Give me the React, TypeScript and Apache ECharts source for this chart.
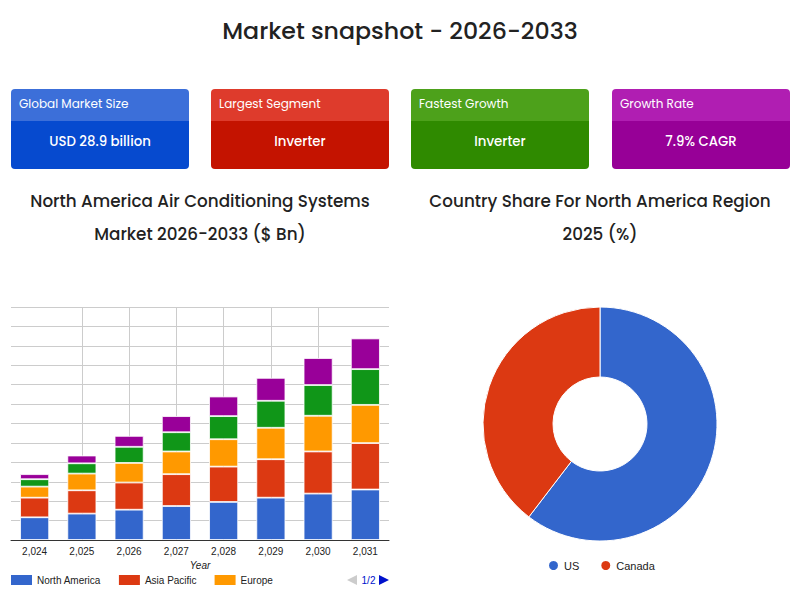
import React, { useEffect, useRef } from "react";
import * as echarts from "echarts";

const years = ["2,024", "2,025", "2,026", "2,027", "2,028", "2,029", "2,030", "2,031"];
const northAmerica = [1.17, 1.36, 1.56, 1.75, 1.96, 2.18, 2.39, 2.6];
const asiaPacific = [1.01, 1.2, 1.4, 1.64, 1.82, 1.98, 2.17, 2.39];
const europe = [0.57, 0.86, 1.01, 1.17, 1.41, 1.62, 1.84, 1.97];
const latinAmerica = [0.38, 0.53, 0.83, 0.99, 1.19, 1.39, 1.58, 1.84];
const middleEastAfrica = [0.26, 0.4, 0.56, 0.83, 1.01, 1.18, 1.39, 1.58];
const regionNames = ["North America", "Asia Pacific", "Europe", "Latin America", "Middle East & Africa"];
const legendPageOne = ["North America", "Asia Pacific", "Europe"];
const legendPageText = "1/2";
const regionColors = ["#3366cc", "#dc3912", "#ff9900", "#109618", "#990099"];

const countryNames = ["US", "Canada"];
const countryShares = [60.4, 39.6];
const countryColors = ["#3366cc", "#dc3912"];

const cardTitles = ["Global Market Size", "Largest Segment", "Fastest Growth", "Growth Rate"];
const cardValues = ["USD 28.9 billion", "Inverter", "Inverter", "7.9% CAGR"];
const cardHeaderColors = ["#3c6fd9", "#de3b2c", "#4da11b", "#b01eb2"];
const cardBodyColors = ["#064acf", "#c41300", "#2f8a00", "#970097"];
const cardLefts = [11, 211, 411, 612];

const TITLE_FONT = "Poppins, Inter, 'Noto Sans', sans-serif";
const CHART_FONT = "Arial, 'Liberation Sans', sans-serif";

export default function App() {
  const ref = useRef<HTMLDivElement>(null);
  useEffect(() => {
    if (!ref.current) return;
    const chart = echarts.init(ref.current, undefined, { renderer: "svg" });
    const seriesData = [northAmerica, asiaPacific, europe, latinAmerica, middleEastAfrica];

    const cards: any[] = [];
    cardTitles.forEach((t, i) => {
      const x = cardLefts[i];
      const w = 178;
      cards.push({
        type: "rect",
        shape: { x, y: 89, width: w, height: 32, r: [4, 4, 0, 0] },
        style: { fill: cardHeaderColors[i] },
      });
      cards.push({
        type: "rect",
        shape: { x, y: 121, width: w, height: 48, r: [0, 0, 4, 4] },
        style: { fill: cardBodyColors[i] },
      });
      cards.push({
        type: "text",
        x: x + 8,
        y: 103,
        style: {
          text: t,
          fill: "#ffffff",
          font: `400 12px ${TITLE_FONT}`,
          textAlign: "left",
          textVerticalAlign: "middle",
        },
      });
      cards.push({
        type: "text",
        x: x + w / 2,
        y: 141,
        style: {
          text: cardValues[i],
          fill: "#ffffff",
          font: `500 13.3px ${TITLE_FONT}`,
          textAlign: "center",
          textVerticalAlign: "middle",
        },
      });
    });

    const texts = [
      { t: "Market snapshot - 2026-2033", x: 400, y: 30, size: 23.7 },
      { t: "North America Air Conditioning Systems", x: 200, y: 201, size: 16.8 },
      { t: "Market 2026-2033 ($ Bn)", x: 200, y: 234, size: 16.8 },
      { t: "Country Share For North America Region", x: 600, y: 201, size: 16.8 },
      { t: "2025 (%)", x: 600, y: 234, size: 16.8 },
    ].map((d) => ({
      type: "text",
      x: d.x,
      y: d.y,
      style: {
        text: d.t,
        fill: "#222222",
        font: `500 ${d.size}px ${TITLE_FONT}`,
        textAlign: "center",
        textVerticalAlign: "middle",
      },
    }));

    const pager = [
      {
        type: "polygon",
        shape: { points: [[357, 575], [357, 585], [347, 580]] },
        style: { fill: "#cccccc" },
      },
      {
        type: "text",
        x: 368.5,
        y: 580,
        style: {
          text: legendPageText,
          fill: "#0011cc",
          font: `10px ${CHART_FONT}`,
          textAlign: "center",
          textVerticalAlign: "middle",
        },
      },
      {
        type: "polygon",
        shape: { points: [[379, 575], [379, 585], [389, 580]] },
        style: { fill: "#0011cc" },
      },
    ];

    // helper axis with 17 slots: odd slots fall on category centres
    const helperSlots = Array.from({ length: 17 }, (_, i) => String(i));

    chart.setOption({
      animation: false,
      graphic: [...cards, ...texts, ...pager],
      grid: { left: 11, right: 401, top: 307, bottom: 66, containLabel: false },
      legend: [
        {
          data: legendPageOne,
          left: 11,
          top: 575,
          padding: 0,
          icon: "rect",
          itemWidth: 21,
          itemHeight: 10,
          itemGap: 18,
          itemStyle: { borderWidth: 0 },
          textStyle: { fontFamily: CHART_FONT, fontSize: 10, color: "#222" },
        },
        {
          data: countryNames,
          left: 547,
          top: 559,
          padding: 0,
          icon: "circle",
          itemWidth: 11,
          itemHeight: 11,
          itemGap: 20,
          textStyle: { fontFamily: CHART_FONT, fontSize: 11, color: "#222" },
        },
      ],
      xAxis: [
        {
          type: "category",
          data: years,
          name: "Year",
          nameLocation: "middle",
          nameGap: 20,
          nameTextStyle: { fontFamily: CHART_FONT, fontSize: 10, fontStyle: "italic", color: "#222" },
          axisLine: { lineStyle: { color: "#333", width: 1 } },
          axisTick: { show: false },
          axisLabel: { fontFamily: CHART_FONT, fontSize: 10, color: "#222", margin: 6 },
          splitLine: { show: false },
          z: 3,
        },
        {
          type: "category",
          data: helperSlots,
          boundaryGap: false,
          position: "bottom",
          axisLine: { show: false },
          axisTick: { show: false },
          axisLabel: { show: false },
          splitLine: {
            show: true,
            showMinLine: false,
            showMaxLine: false,
            interval: (index: number) => index % 2 === 1,
            lineStyle: { color: "#cccccc" },
          },
        },
      ],
      yAxis: {
        type: "value",
        min: 0,
        max: 12,
        interval: 1,
        axisLabel: { show: false },
        axisLine: { show: false },
        axisTick: { show: false },
        splitLine: { lineStyle: { color: "#cccccc" } },
      },
      series: [
        ...regionNames.map((n, i) => ({
          type: "bar",
          name: n,
          stack: "total",
          xAxisIndex: 0,
          data: seriesData[i],
          barWidth: 29,
          itemStyle: { color: regionColors[i], borderColor: "#ffffff", borderWidth: 0.8 },
        })),
        {
          type: "pie",
          name: "Country Share",
          center: [600, 424],
          radius: [47, 117],
          startAngle: 90,
          clockwise: true,
          label: { show: false },
          labelLine: { show: false },
          itemStyle: { borderColor: "#ffffff", borderWidth: 1 },
          data: countryNames.map((n, i) => ({
            name: n,
            value: countryShares[i],
            itemStyle: { color: countryColors[i] },
          })),
        },
      ],
    });
    return () => chart.dispose();
  }, []);

  return (
    <div
      ref={ref}
      style={{ position: "fixed", left: 0, top: 0, width: 790, height: 606, background: "#fff" }}
    />
  );
}
